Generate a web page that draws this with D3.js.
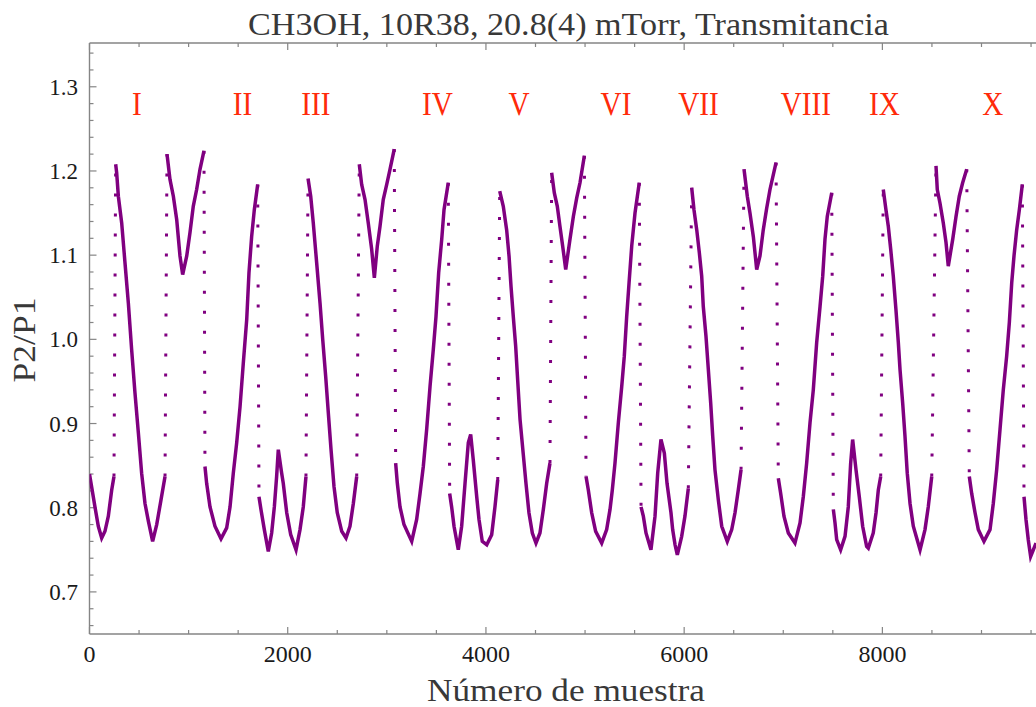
<!DOCTYPE html>
<html>
<head>
<meta charset="utf-8">
<script src="https://cdn.jsdelivr.net/npm/d3@7/dist/d3.min.js"></script>
<style>
  html, body { margin: 0; padding: 0; background: #fff; }
  svg { display: block; }
</style>
</head>
<body>
<svg id="chart" width="1036" height="707"></svg>
<script>
// Sample index along the scan
const sampleIdx = [
  0, 55, 89, 123, 156, 190, 224, 247, 264, 274, 291, 325, 358, 392, 425, 459, 493, 526, 560, 594,
  637, 678, 721, 762, 782, 812, 846, 880, 913, 940, 981, 1014, 1047, 1081, 1115, 1155, 1165, 1182, 1216, 1266,
  1327, 1384, 1418, 1451, 1485, 1519, 1552, 1586, 1609, 1636, 1663, 1697, 1710, 1730, 1764, 1804, 1838, 1865, 1888, 1905,
  1939, 1955, 1990, 2030, 2084, 2124, 2157, 2184, 2205, 2232, 2258, 2292, 2326, 2353, 2383, 2410, 2437, 2467, 2500, 2545,
  2588, 2628, 2662, 2696, 2722, 2746, 2780, 2813, 2847, 2874, 2904, 2931, 2964, 2999, 3032, 3075, 3089, 3106, 3133, 3173,
  3251, 3301, 3335, 3368, 3402, 3436, 3469, 3496, 3523, 3554, 3577, 3620, 3634, 3654, 3678, 3721, 3755, 3789, 3822, 3846,
  3872, 3907, 3930, 3963, 4008, 4058, 4091, 4119, 4139, 4175, 4209, 4233, 4253, 4276, 4300, 4320, 4344, 4377, 4404, 4434,
  4468, 4505, 4545, 4579, 4613, 4646, 4663, 4690, 4720, 4747, 4774, 4805, 4848, 4882, 4916, 4949, 4993, 5010, 5033, 5067,
  5107, 5168, 5218, 5252, 5275, 5302, 5336, 5370, 5396, 5420, 5444, 5471, 5504, 5547, 5565, 5588, 5615, 5665, 5706, 5733,
  5766, 5800, 5827, 5867, 5884, 5908, 5931, 5975, 6008, 6042, 6076, 6099, 6127, 6153, 6177, 6193, 6220, 6244, 6268, 6288,
  6311, 6345, 6379, 6435, 6480, 6513, 6546, 6574, 6604, 6637, 6664, 6698, 6732, 6765, 6798, 6833, 6866, 6927, 6950, 6974,
  7007, 7051, 7118, 7169, 7202, 7236, 7270, 7303, 7337, 7371, 7398, 7421, 7444, 7489, 7505, 7522, 7539, 7579, 7623, 7656,
  7680, 7700, 7734, 7767, 7801, 7841, 7858, 7908, 7936, 7959, 7983, 8009, 8036, 8060, 8084, 8110, 8137, 8161, 8178, 8205,
  8228, 8251, 8279, 8312, 8380, 8430, 8463, 8498, 8541, 8554, 8581, 8615, 8642, 8665, 8710, 8743, 8776, 8810, 8851, 8877,
  8901, 8935, 8968, 9025, 9086, 9119, 9153, 9187, 9220, 9254, 9281, 9305, 9328, 9355, 9382, 9412, 9429, 9449, 9472, 9496,
  9523, 9550
];

// Transmittance ratio P2/P1 at each sample
const ratio = [
  0.840, 0.801, 0.778, 0.764, 0.772, 0.790, 0.821, 0.837, 1.208, 1.198, 1.170, 1.138, 1.091, 1.043, 0.988, 0.936, 0.889, 0.841, 0.805, 0.784,
  0.760, 0.780, 0.809, 0.837, 1.220, 1.190, 1.170, 1.142, 1.099, 1.077, 1.099, 1.127, 1.158, 1.178, 1.202, 1.224, 0.849, 0.829, 0.801, 0.778,
  0.763, 0.776, 0.801, 0.841, 0.877, 0.920, 0.972, 1.023, 1.079, 1.122, 1.154, 1.184, 0.813, 0.798, 0.774, 0.748, 0.770, 0.801, 0.837, 0.869,
  0.841, 0.829, 0.794, 0.768, 0.750, 0.774, 0.801, 0.837, 1.191, 1.170, 1.138, 1.091, 1.043, 1.000, 0.956, 0.912, 0.869, 0.825, 0.794, 0.772,
  0.764, 0.778, 0.805, 0.837, 1.208, 1.184, 1.166, 1.138, 1.107, 1.073, 1.111, 1.134, 1.166, 1.184, 1.202, 1.226, 0.853, 0.829, 0.801, 0.780,
  0.760, 0.786, 0.817, 0.849, 0.893, 0.944, 0.988, 1.027, 1.079, 1.119, 1.154, 1.186, 0.817, 0.801, 0.778, 0.750, 0.778, 0.829, 0.877, 0.887,
  0.857, 0.813, 0.786, 0.760, 0.756, 0.768, 0.801, 0.833, 1.176, 1.158, 1.130, 1.099, 1.063, 1.027, 0.992, 0.952, 0.905, 0.863, 0.829, 0.794,
  0.770, 0.758, 0.770, 0.798, 0.829, 0.853, 1.198, 1.174, 1.158, 1.134, 1.111, 1.083, 1.119, 1.146, 1.168, 1.186, 1.218, 0.837, 0.821, 0.794,
  0.772, 0.758, 0.774, 0.798, 0.821, 0.853, 0.901, 0.944, 0.980, 1.027, 1.067, 1.111, 1.150, 1.186, 0.801, 0.790, 0.770, 0.750, 0.790, 0.841,
  0.881, 0.865, 0.829, 0.794, 0.774, 0.756, 0.744, 0.766, 0.790, 0.823, 1.180, 1.154, 1.130, 1.103, 1.075, 1.039, 1.004, 0.964, 0.924, 0.885,
  0.845, 0.809, 0.778, 0.760, 0.774, 0.794, 0.821, 0.845, 1.202, 1.170, 1.150, 1.122, 1.083, 1.099, 1.130, 1.156, 1.178, 1.210, 0.835, 0.817,
  0.790, 0.770, 0.758, 0.782, 0.813, 0.853, 0.901, 0.940, 0.996, 1.039, 1.075, 1.119, 1.146, 1.174, 0.798, 0.782, 0.762, 0.750, 0.766, 0.801,
  0.853, 0.881, 0.845, 0.813, 0.778, 0.754, 0.752, 0.770, 0.794, 0.821, 0.837, 1.178, 1.154, 1.134, 1.107, 1.075, 1.035, 0.996, 0.964, 0.924,
  0.885, 0.841, 0.805, 0.778, 0.750, 0.774, 0.801, 0.837, 1.206, 1.178, 1.162, 1.138, 1.115, 1.087, 1.119, 1.146, 1.170, 1.186, 1.202, 0.837,
  0.817, 0.794, 0.774, 0.760, 0.774, 0.805, 0.845, 0.893, 0.940, 0.980, 1.020, 1.067, 1.099, 1.130, 1.154, 1.184, 0.813, 0.786, 0.762, 0.742,
  0.750, 0.758
];

// Absorption line labels and their sample positions
const lineLabels = ["I", "II", "III", "IV", "V", "VI", "VII", "VIII", "IX", "X"];
const lineLabelPos = [479, 1544, 2285, 3511, 4334, 5312, 6145, 7227, 8020, 9113];

// Axis ticks
const xMajorTicks = [0, 2000, 4000, 6000, 8000];
const yMajorTicks = [0.7, 0.8, 0.9, 1.0, 1.1, 1.2, 1.3];

const titleText = "CH3OH, 10R38, 20.8(4) mTorr, Transmitancia";
const xTitle = "Número de muestra";
const yTitle = "P2/P1";

(function draw() {
  const svg = d3.select("#chart");
  const plotLeft = 89.5, plotRight = 1036, plotTop = 43, plotBottom = 634;

  const x = d3.scaleLinear().domain([0, 9550]).range([plotLeft, plotRight]);
  const y = d3.scaleLinear().domain([0.65, 1.352]).range([plotBottom, plotTop]);

  const frameColor = "#858585";
  const serif = "'Liberation Serif', 'DejaVu Serif', serif";

  // Title
  svg.append("text")
    .attr("x", 568.5).attr("y", 34.5)
    .attr("text-anchor", "middle")
    .attr("font-family", serif).attr("font-size", 32)
    .attr("fill", "#383838")
    .attr("textLength", 641).attr("lengthAdjust", "spacingAndGlyphs")
    .text(titleText);

  // Clip for the data
  svg.append("defs").append("clipPath").attr("id", "plotClip")
    .append("rect").attr("x", plotLeft).attr("y", plotTop)
    .attr("width", plotRight - plotLeft).attr("height", plotBottom - plotTop);

  // Frame lines
  const frame = svg.append("g").attr("stroke", frameColor).attr("stroke-width", 1.4).attr("fill", "none");
  frame.append("line").attr("x1", plotLeft).attr("x2", plotRight).attr("y1", plotBottom).attr("y2", plotBottom);
  frame.append("line").attr("x1", plotLeft).attr("x2", plotRight).attr("y1", plotTop).attr("y2", plotTop);
  frame.append("line").attr("x1", plotLeft).attr("x2", plotLeft).attr("y1", plotTop).attr("y2", plotBottom);

  // X ticks (bottom and top, pointing inward)
  const xMinor = d3.range(0, 9551, 500).filter(v => !xMajorTicks.includes(v));
  const xTickG = svg.append("g").attr("stroke", frameColor).attr("stroke-width", 1.2);
  xMajorTicks.forEach(v => {
    xTickG.append("line").attr("x1", x(v)).attr("x2", x(v)).attr("y1", plotBottom).attr("y2", plotBottom - 7);
    xTickG.append("line").attr("x1", x(v)).attr("x2", x(v)).attr("y1", plotTop).attr("y2", plotTop + 7);
  });
  xMinor.forEach(v => {
    xTickG.append("line").attr("x1", x(v)).attr("x2", x(v)).attr("y1", plotBottom).attr("y2", plotBottom - 4);
    xTickG.append("line").attr("x1", x(v)).attr("x2", x(v)).attr("y1", plotTop).attr("y2", plotTop + 4);
  });

  // Y ticks (left, pointing inward)
  const yMinor = d3.range(0, 36).map(i => +(0.66 + i * 0.02).toFixed(2))
    .filter(v => v <= 1.35 && !yMajorTicks.some(m => Math.abs(m - v) < 1e-6));
  const yTickG = svg.append("g").attr("stroke", frameColor).attr("stroke-width", 1.2);
  yMajorTicks.forEach(v => {
    yTickG.append("line").attr("x1", plotLeft).attr("x2", plotLeft + 7).attr("y1", y(v)).attr("y2", y(v));
  });
  yMinor.forEach(v => {
    yTickG.append("line").attr("x1", plotLeft).attr("x2", plotLeft + 4).attr("y1", y(v)).attr("y2", y(v));
  });

  // Tick labels
  svg.append("g").selectAll("text").data(xMajorTicks).join("text")
    .attr("x", d => x(d)).attr("y", 662)
    .attr("text-anchor", "middle")
    .attr("font-family", serif).attr("font-size", 24)
    .attr("fill", "#1a1a1a")
    .text(d => d3.format("d")(d));

  svg.append("g").selectAll("text").data(yMajorTicks).join("text")
    .attr("x", 78).attr("y", d => y(d) + 8)
    .attr("text-anchor", "end")
    .attr("font-family", serif).attr("font-size", 23)
    .attr("fill", "#1a1a1a")
    .text(d => d3.format(".1f")(d));

  // Axis titles
  svg.append("text")
    .attr("x", 566).attr("y", 701)
    .attr("text-anchor", "middle")
    .attr("font-family", serif).attr("font-size", 32)
    .attr("fill", "#383838")
    .attr("textLength", 278).attr("lengthAdjust", "spacingAndGlyphs")
    .text(xTitle);

  svg.append("text")
    .attr("transform", "translate(35,340) rotate(-90)")
    .attr("text-anchor", "middle")
    .attr("font-family", serif).attr("font-size", 32)
    .attr("fill", "#383838")
    .attr("textLength", 85).attr("lengthAdjust", "spacingAndGlyphs")
    .text(yTitle);

  // Data trace: gentle stretches drawn solid, fast jumps drawn as sparse dots
  const pts = sampleIdx.map((s, i) => [s, ratio[i]]);
  const solidRuns = [];
  const jumps = [];
  let run = [pts[0]];
  for (let i = 1; i < pts.length; i++) {
    const a = pts[i - 1], b = pts[i];
    if (Math.abs(b[1] - a[1]) > 0.2) {
      solidRuns.push(run);
      jumps.push([a, b]);
      run = [b];
    } else {
      run.push(b);
    }
  }
  solidRuns.push(run);

  const line = d3.line().x(d => x(d[0])).y(d => y(d[1]));
  const dataG = svg.append("g").attr("clip-path", "url(#plotClip)");
  const purple = "#800080";

  dataG.selectAll("path.solid").data(solidRuns).join("path")
    .attr("class", "solid")
    .attr("d", line)
    .attr("fill", "none")
    .attr("stroke", purple)
    .attr("stroke-width", 3.5)
    .attr("stroke-linejoin", "miter");

  dataG.selectAll("path.jump").data(jumps).join("path")
    .attr("class", "jump")
    .attr("d", line)
    .attr("fill", "none")
    .attr("stroke", purple)
    .attr("stroke-width", 3)
    .attr("stroke-dasharray", "3,17");

  // Line labels (condensed serif numerals)
  svg.append("g").selectAll("text").data(lineLabels).join("text")
    .attr("transform", (d, i) => `translate(${x(lineLabelPos[i])},115) scale(0.86,1)`)
    .attr("text-anchor", "middle")
    .attr("font-family", serif).attr("font-size", 34)
    .attr("fill", "#ff2a0a")
    .text(d => d);
})();
</script>
</body>
</html>
